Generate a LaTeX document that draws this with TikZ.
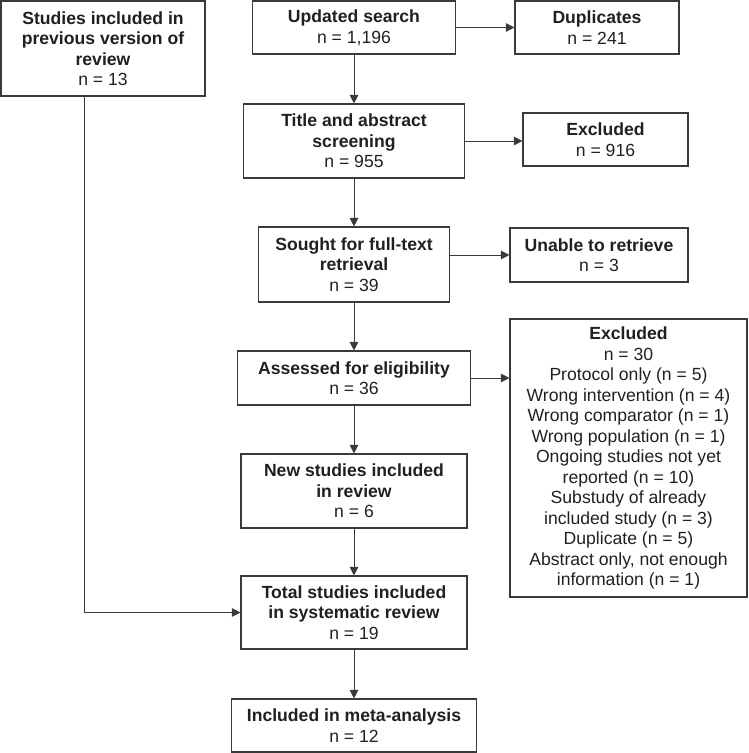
\documentclass[tikz,border=0pt]{standalone}
\usepackage{fontspec}
\setmainfont{Liberation Sans}
\usetikzlibrary{arrows.meta,calc}
\definecolor{ink}{HTML}{231F20}
\definecolor{edge}{HTML}{3A3A3A}
\begin{document}
\begin{tikzpicture}[x=1pt,y=-1pt,
  box/.style={draw=edge,line width=1.1pt,inner sep=0pt,align=center,text=ink,
    font=\fontsize{17.6}{20.5}\selectfont},
  arr/.style={draw=edge,line width=0.9pt,-{Triangle[length=8.5pt,width=8.5pt]}},
  ln/.style={draw=edge,line width=0.9pt}]
\useasboundingbox (0,0) rectangle (748,753);
\node[box,minimum width=204,minimum height=95] (prev) at (103,48.5)
  {\textbf{Studies included in}\\\textbf{previous version of}\\\textbf{review}\\n = 13};
\node[box,minimum width=203,minimum height=53] (upd) at (354,27.5)
  {\textbf{Updated search}\\n = 1,196};
\node[box,minimum width=164,minimum height=53] (dup) at (597,27.5)
  {\textbf{Duplicates}\\n = 241};
\node[box,minimum width=221,minimum height=74] (title) at (354,141)
  {\textbf{Title and abstract}\\\textbf{screening}\\n = 955};
\node[box,minimum width=165,minimum height=53] (exc1) at (605.5,139.5)
  {\textbf{Excluded}\\n = 916};
\node[box,minimum width=191,minimum height=75] (sought) at (354,264.5)
  {\textbf{Sought for full-text}\\\textbf{retrieval}\\n = 39};
\node[box,minimum width=178,minimum height=54] (unable) at (599,255)
  {\textbf{Unable to retrieve}\\n = 3};
\node[box,minimum width=233,minimum height=54] (assess) at (354,378)
  {\textbf{Assessed for eligibility}\\n = 36};
\node[box,minimum width=237,minimum height=278] (exc2) at (628.5,458)
  {\textbf{Excluded}\\n = 30\\Protocol only (n = 5)\\Wrong intervention (n = 4)\\Wrong comparator (n = 1)\\Wrong population (n = 1)\\Ongoing studies not yet\\reported (n = 10)\\Substudy of already\\included study (n = 3)\\Duplicate (n = 5)\\Abstract only, not enough\\information (n = 1)};
\node[box,minimum width=226,minimum height=74] (new) at (354,491)
  {\textbf{New studies included}\\\textbf{in review}\\n = 6};
\node[box,minimum width=226,minimum height=73] (total) at (354,612.5)
  {\textbf{Total studies included}\\\textbf{in systematic review}\\n = 19};
\node[box,minimum width=245,minimum height=53] (meta) at (354,725.5)
  {\textbf{Included in meta-analysis}\\n = 12};
\draw[arr] (upd) -- (title);
\draw[arr] (title) -- (sought);
\draw[arr] (sought) -- (assess);
\draw[arr] (assess) -- (new);
\draw[arr] (new) -- (total);
\draw[arr] (total) -- (meta);
\draw[arr] (upd.east) -- (upd.east -| dup.west);
\draw[arr] (title.east) -- (title.east -| exc1.west);
\draw[arr] (sought.east |- unable.west) -- (unable.west);
\draw[arr] (assess.east) -- (assess.east -| exc2.west);
\coordinate (pl) at ([xshift=-19pt]prev.south);
\draw[arr] (pl) |- (total.west);
\end{tikzpicture}
\end{document}
